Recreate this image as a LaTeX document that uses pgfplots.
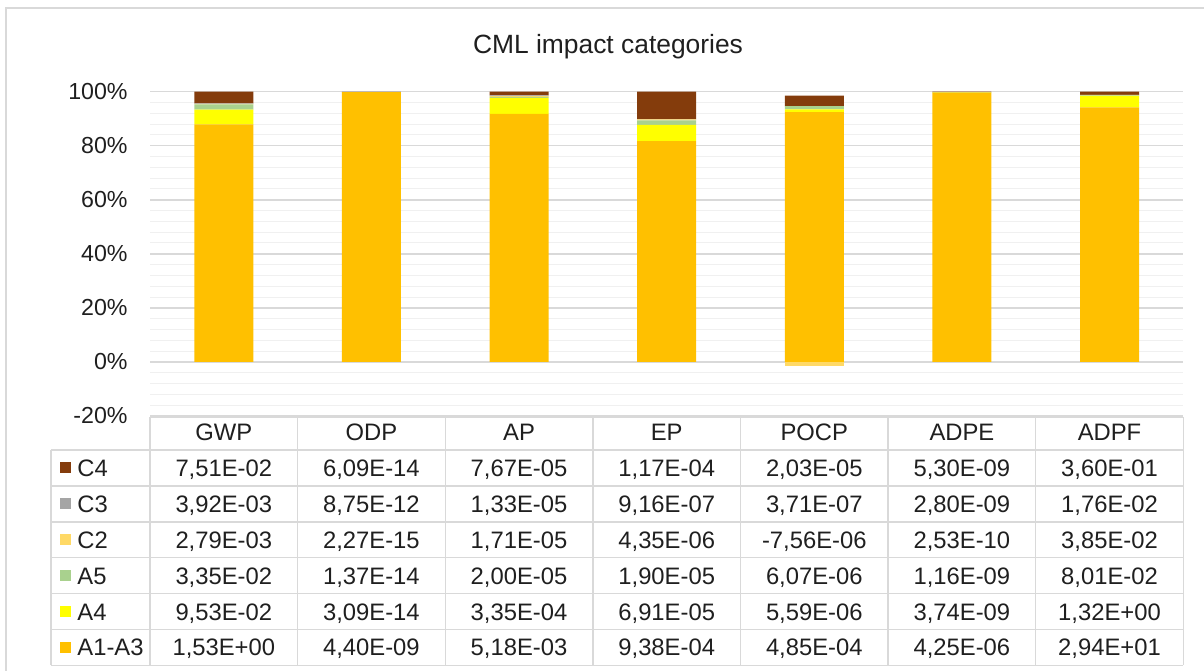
\documentclass[border=0pt]{standalone}
\usepackage{pgfplots}
\pgfplotsset{compat=1.18}
\usepackage{pgfplotstable}
\usepackage{fontspec}
\setmainfont{Liberation Sans}

\definecolor{cAa}{HTML}{FFC000}
\definecolor{cAb}{HTML}{FFFF00}
\definecolor{cAc}{HTML}{A9D18E}
\definecolor{cCb}{HTML}{FFD966}
\definecolor{cCc}{HTML}{A5A5A5}
\definecolor{cCd}{HTML}{843C0C}
\definecolor{txt}{HTML}{1F1F1F}
\definecolor{gridmaj}{HTML}{D9D9D9}
\definecolor{gridmin}{HTML}{F0F0F0}
\definecolor{tblcol}{HTML}{D9D9D9}

% percentage shares (value / sum of absolute values)
\pgfplotstableread{
x  A1A3    A4      A5      C2      C3      C4
0  87.900  5.475   1.925   0.160   0.225   4.315
1  99.799  0.0007  0.0003  0.0001  0.198   0.0014
2  91.810  5.938   0.354   0.303   0.236   1.359
3  81.681  6.017   1.655   0.379   0.080   10.188
4  92.400  1.065   1.156   0.000   0.071   3.868
5  99.689  0.088   0.027   0.006   0.066   0.124
6  94.182  4.229   0.257   0.123   0.056   1.153
}\datatable
\pgfplotstableread{
x  C2neg
4  -1.440
}\negtable

\newcommand\tabfont{\fontsize{11.9}{14}\selectfont}

\begin{document}
\begin{tikzpicture}
\useasboundingbox (0,0) rectangle (602pt,335pt);

\begin{axis}[
  at={(75pt,127.05pt)}, anchor=south west,
  scale only axis, width=516.67pt, height=162.1pt,
  xmin=-0.5, xmax=6.5, ymin=-20, ymax=100,
  ybar stacked, bar width=29.5pt,
  axis line style={draw=none},
  major tick length=0pt, minor tick length=0pt,
  xtick={0,...,6}, xticklabels={GWP,ODP,AP,EP,POCP,ADPE,ADPF},
  xticklabel style={anchor=base, inner sep=0pt, yshift=-12.4pt, font=\tabfont, text=txt},
  ytick={-20,0,20,40,60,80,100},
  yticklabels={-20\%,0\%,20\%,40\%,60\%,80\%,100\%},
  yticklabel style={anchor=east, inner sep=0pt, xshift=-11pt, font=\fontsize{11.6}{14}\selectfont, text=txt},
  minor y tick num=4,
  ymajorgrids, yminorgrids,
  major grid style={draw=gridmaj, line width=0.75pt},
  minor grid style={draw=gridmin, line width=0.5pt},
  clip=false,
]
\addplot[fill=cAa, draw=none] table[x=x,y=A1A3]{\datatable};
\addplot[fill=cAb, draw=none] table[x=x,y=A4]{\datatable};
\addplot[fill=cAc, draw=none] table[x=x,y=A5]{\datatable};
\addplot[fill=cCb, draw=none] table[x=x,y=C2]{\datatable};
\addplot[fill=cCc, draw=none] table[x=x,y=C3]{\datatable};
\addplot[fill=cCd, draw=none] table[x=x,y=C4]{\datatable};
\end{axis}

\begin{axis}[
  at={(75pt,127.05pt)}, anchor=south west,
  scale only axis, width=516.67pt, height=162.1pt,
  xmin=-0.5, xmax=6.5, ymin=-20, ymax=100,
  hide axis, ybar, bar width=29.5pt,
]
\addplot[fill=cCb, draw=none, bar shift=0pt] table[x=x,y=C2neg]{\negtable};
\end{axis}

\begin{scope}[x=0.5pt, y=-0.5pt, shift={(0pt,335pt)}]
  % outer frame
  \draw[draw=gridmaj, line width=0.8pt] (6,672) -- (6,8) -- (1210,8);
  % title
  \node[anchor=base, inner sep=0pt, font=\fontsize{13.2}{16}\selectfont, text=txt] at (608,53.3) {CML impact categories};
  % table grid
  \begin{scope}[draw=tblcol, line width=0.7pt]
    \draw (150,417.3) -- (1183.3,417.3);
    \foreach \r in {0,...,6} \draw (51,{450+\r*35.9}) -- (1183.3,{450+\r*35.9});
    \foreach \k in {0,...,7} \draw ({150+\k*147.62},417.3) -- ({150+\k*147.62},665.4);
    \draw (51,450) -- (51,665.4);
  \end{scope}
  % legend keys and labels
  \foreach \lab/\col [count=\i from 0] in {C4/cCd, C3/cCc, C2/cCb, A5/cAc, A4/cAb, A1-A3/cAa} {
    \fill[\col] (60,{467.95+\i*35.9-5.5}) rectangle (71,{467.95+\i*35.9+5.5});
    \node[anchor=base west, inner sep=0pt, font=\tabfont, text=txt] at (77,{467.95+\i*35.9+8.5}) {\lab};
  }
  \newcommand\tabrow[8]{%
    \node[anchor=base, inner sep=0pt, font=\tabfont, text=txt] at (223.8,{467.95+#1*35.9+8.5}) {#2};
    \node[anchor=base, inner sep=0pt, font=\tabfont, text=txt] at (371.4,{467.95+#1*35.9+8.5}) {#3};
    \node[anchor=base, inner sep=0pt, font=\tabfont, text=txt] at (519.0,{467.95+#1*35.9+8.5}) {#4};
    \node[anchor=base, inner sep=0pt, font=\tabfont, text=txt] at (666.7,{467.95+#1*35.9+8.5}) {#5};
    \node[anchor=base, inner sep=0pt, font=\tabfont, text=txt] at (814.3,{467.95+#1*35.9+8.5}) {#6};
    \node[anchor=base, inner sep=0pt, font=\tabfont, text=txt] at (961.9,{467.95+#1*35.9+8.5}) {#7};
    \node[anchor=base, inner sep=0pt, font=\tabfont, text=txt] at (1109.5,{467.95+#1*35.9+8.5}) {#8};
  }
  \tabrow{0}{7,51E-02}{6,09E-14}{7,67E-05}{1,17E-04}{2,03E-05}{5,30E-09}{3,60E-01}
  \tabrow{1}{3,92E-03}{8,75E-12}{1,33E-05}{9,16E-07}{3,71E-07}{2,80E-09}{1,76E-02}
  \tabrow{2}{2,79E-03}{2,27E-15}{1,71E-05}{4,35E-06}{-7,56E-06}{2,53E-10}{3,85E-02}
  \tabrow{3}{3,35E-02}{1,37E-14}{2,00E-05}{1,90E-05}{6,07E-06}{1,16E-09}{8,01E-02}
  \tabrow{4}{9,53E-02}{3,09E-14}{3,35E-04}{6,91E-05}{5,59E-06}{3,74E-09}{1,32E+00}
  \tabrow{5}{1,53E+00}{4,40E-09}{5,18E-03}{9,38E-04}{4,85E-04}{4,25E-06}{2,94E+01}
\end{scope}
\end{tikzpicture}
\end{document}
